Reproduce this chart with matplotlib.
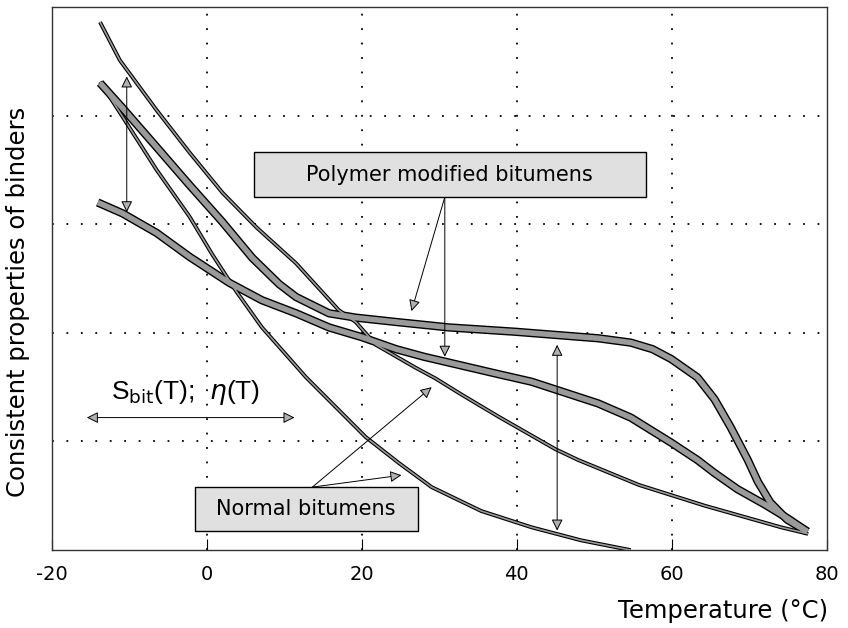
import matplotlib.pyplot as plt
from matplotlib.patches import Rectangle

# Curve data (temperature in degC, relative consistency 0..5)
# - normal bitumen, upper (thin)
norm_hi_t = [-13.8, -11.25, -6.5, -2.25, 2.0, 6.4, 11.5, 17.0, 19.2, 21.8, 26.9, 29.5, 32.9, 37.6, 44.95, 47.9, 55.75, 64.2, 74.1, 77.6]
norm_hi_v = [4.86, 4.51, 4.05, 3.66, 3.29, 2.97, 2.64, 2.21, 2.10, 1.89, 1.68, 1.58, 1.43, 1.23, 0.93, 0.83, 0.60, 0.41, 0.21, 0.15]
# - normal bitumen, lower (thin)
norm_lo_t = [-13.8, -10.9, -6.5, -2.25, 0.7, 3.8, 7.1, 12.8, 20.5, 24.8, 29.0, 35.4, 41.9, 48.3, 54.7]
norm_lo_v = [4.31, 3.99, 3.50, 3.07, 2.72, 2.38, 2.05, 1.59, 1.04, 0.80, 0.58, 0.36, 0.21, 0.09, 0.0]
# - polymer modified bitumen, upper (thick)
pmb_hi_t = [-13.8, -10.9, -6.5, -2.25, 2.0, 5.85, 9.3, 11.5, 15.75, 19.2, 24.4, 31.2, 39.8, 50.5, 54.7, 57.5, 59.9, 63.3,
            65.5, 67.6, 69.8, 71.1, 72.7, 74.9, 77.5]
pmb_hi_v = [4.30, 4.07, 3.71, 3.36, 3.02, 2.69, 2.45, 2.33, 2.18, 2.14, 2.10, 2.05, 2.01, 1.95, 1.91, 1.85, 1.76, 1.59,
            1.39, 1.13, 0.83, 0.63, 0.44, 0.28, 0.17]
# - polymer modified bitumen, lower (thick)
pmb_lo_t = [-14.1, -10.9, -6.5, -2.25, 2.9, 7.1, 11.5, 15.75, 20.0, 24.4, 28.0, 33.4, 37.6, 41.9, 46.2, 50.5, 54.7, 59.9,
            63.3, 65.5, 68.5, 72.0, 75.0, 77.5]
pmb_lo_v = [3.20, 3.10, 2.92, 2.70, 2.46, 2.30, 2.18, 2.05, 1.96, 1.85, 1.78, 1.69, 1.62, 1.55, 1.45, 1.35, 1.22, 0.99,
            0.83, 0.71, 0.56, 0.42, 0.29, 0.17]

xticks = [-20, 0, 20, 40, 60, 80]
ygrid = [1, 2, 3, 4]

GREY = "#9a9a9a"
BOXGREY = "#e0e0e0"


def band(ax, x, y, w, edge=2.0):
    # grey line with a black outline
    ax.plot(x, y, color="black", lw=w + edge, solid_capstyle="butt", solid_joinstyle="round", zorder=3)
    ax.plot(x, y, color=GREY, lw=w, solid_capstyle="butt", solid_joinstyle="round", zorder=4)


fig = plt.figure(figsize=(8.48, 6.28), dpi=100)
ax = fig.add_axes([0.0613, 0.124, 0.9137, 0.865])

band(ax, norm_hi_t, norm_hi_v, 1.2, 1.6)
band(ax, norm_lo_t, norm_lo_v, 1.2, 1.6)
band(ax, pmb_hi_t, pmb_hi_v, 4.0)
band(ax, pmb_lo_t, pmb_lo_v, 4.0)

ax.set_xlim(-20, 80)
ax.set_ylim(0, 5)
ax.set_xticks(xticks)
ax.set_xticklabels([str(t) for t in xticks], fontsize=14, family="DejaVu Sans")
ax.set_yticks([])
ax.tick_params(axis="x", direction="in", length=8, width=0.8, pad=11)
for s in ax.spines.values():
    s.set_linewidth(1.0)
    s.set_color("#333333")

for t in xticks[1:-1]:
    ax.axvline(t, color="black", lw=1.3, ls=(0, (1, 7)), zorder=1)
for g in ygrid:
    ax.axhline(g, color="black", lw=1.3, ls=(0, (1, 7)), zorder=1)

arr = dict(arrowstyle="-|>", color="black", lw=0.7, fc="#b0b0b0", mutation_scale=17, shrinkA=0, shrinkB=0)
arr2 = dict(arrowstyle="<|-|>", color="black", lw=0.7, fc="#b0b0b0", mutation_scale=17, shrinkA=0, shrinkB=0)

# vertical spread arrows
ax.annotate("", xy=(-10.35, 4.36), xytext=(-10.35, 3.11), arrowprops=arr2, zorder=5)
ax.annotate("", xy=(45.2, 1.89), xytext=(45.2, 0.18), arrowprops=arr2, zorder=5)
# horizontal arrow for S_bit / eta
ax.annotate("", xy=(-15.5, 1.22), xytext=(11.3, 1.22), arrowprops=arr2, zorder=5)
ax.text(-12.4, 1.45, r"S$_{\mathrm{bit}}$(T);  $\eta$(T)", fontsize=19, family="Liberation Sans",
        va="center", ha="left")

# polymer modified bitumens label
ax.add_patch(Rectangle((6.1, 3.25), 50.55, 0.41, fc=BOXGREY, ec="black", lw=1.0, zorder=6))
ax.text(31.3, 3.455, "Polymer modified bitumens", fontsize=15, family="DejaVu Sans",
        ha="center", va="center", zorder=7)
ax.annotate("", xy=(26.4, 2.2), xytext=(30.7, 3.25), arrowprops=arr, zorder=5)
ax.annotate("", xy=(30.7, 1.78), xytext=(30.7, 3.25), arrowprops=arr, zorder=5)

# normal bitumens label
ax.add_patch(Rectangle((-1.6, 0.175), 28.8, 0.405, fc=BOXGREY, ec="black", lw=1.0, zorder=6))
ax.text(12.8, 0.375, "Normal bitumens", fontsize=15, family="DejaVu Sans",
        ha="center", va="center", zorder=7)
ax.annotate("", xy=(25.1, 0.69), xytext=(13.6, 0.58), arrowprops=arr, zorder=5)
ax.annotate("", xy=(29.0, 1.50), xytext=(13.6, 0.58), arrowprops=arr, zorder=5)

fig.text(0.021, 0.52, "Consistent properties of binders", rotation=90, fontsize=17.5,
         family="DejaVu Sans", ha="center", va="center")
fig.text(0.977, 0.008, "Temperature (\u00b0C)", fontsize=17.5, family="DejaVu Sans", ha="right", va="bottom")

plt.savefig("out.png", dpi=100)
plt.close()
